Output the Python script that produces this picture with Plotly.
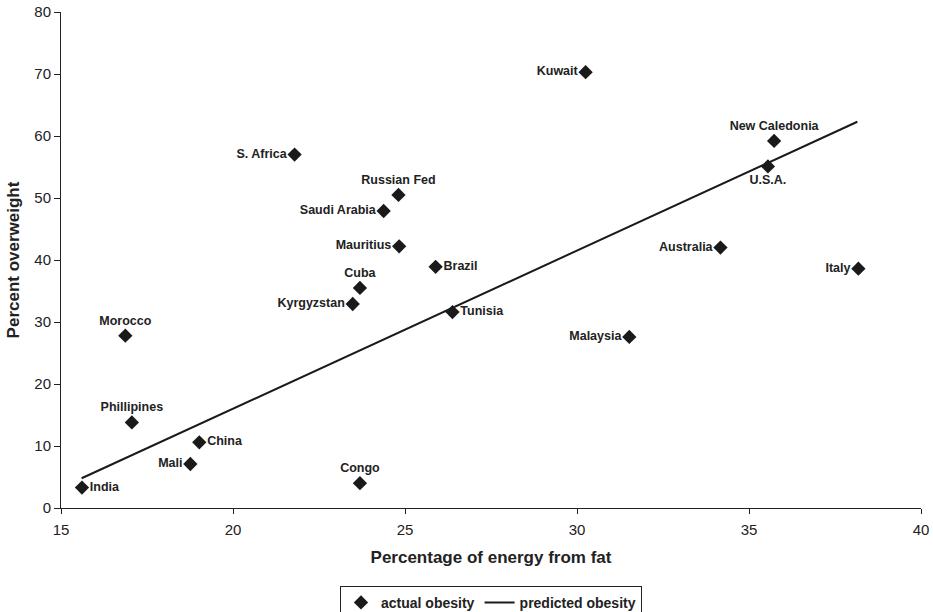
import plotly.graph_objects as go

countries = ["India", "Morocco", "Phillipines", "China", "Mali", "Congo", "Kyrgyzstan", "Cuba",
             "S. Africa", "Saudi Arabia", "Russian Fed", "Mauritius", "Brazil", "Tunisia",
             "Kuwait", "Malaysia", "Australia", "New Caledonia", "U.S.A.", "Italy"]
fat_pct = [15.61, 16.87, 17.06, 19.02, 18.76, 23.69, 23.48, 23.69,
           21.79, 24.38, 24.81, 24.83, 25.89, 26.38,
           30.25, 31.52, 34.17, 35.73, 35.55, 38.18]
overweight = [3.3, 27.8, 13.8, 10.6, 7.1, 4.0, 32.9, 35.5,
              57.0, 47.9, 50.5, 42.2, 38.9, 31.6,
              70.3, 27.6, 42.0, 59.2, 55.1, 38.6]
label_pos = ["middle right", "top center", "top center", "middle right", "middle left", "top center",
             "middle left", "top center", "middle left", "middle left", "top center", "middle left",
             "middle right", "middle right", "middle left", "middle left", "middle left",
             "top center", "bottom center", "middle left"]

pred_x = [15.6, 38.15]
pred_y = [4.8, 62.3]

FONT = "Arial, Liberation Sans, sans-serif"

fig = go.Figure()
fig.add_trace(go.Scatter(
    x=fat_pct, y=overweight, mode="markers+text", name="actual obesity",
    text=countries, textposition=label_pos,
    textfont=dict(family=FONT, size=12.5, color="#222222", weight="bold"),
    marker=dict(symbol="diamond", size=11, color="#1a1a1a"),
))
fig.add_trace(go.Scatter(
    x=pred_x, y=pred_y, mode="lines", name="predicted obesity",
    line=dict(color="#1a1a1a", width=2),
))

fig.update_layout(
    width=933, height=612,
    margin=dict(l=61, r=12, t=12, b=104, autoexpand=False),
    paper_bgcolor="white", plot_bgcolor="white",
    font=dict(family=FONT, color="#222222"),
    showlegend=True,
    legend=dict(orientation="h", x=0.5, xanchor="center", y=-0.157, yanchor="top",
                bordercolor="#222222", borderwidth=1,
                font=dict(family=FONT, size=14, color="#222222", weight="bold"),
                itemwidth=30, tracegroupgap=0),
)
fig.update_xaxes(range=[15, 40], dtick=5, showgrid=False, zeroline=False, automargin=False,
                 showline=True, linecolor="#222222", linewidth=1,
                 ticks="outside", ticklen=5, tickcolor="#222222", ticklabelstandoff=3,
                 ticklabeloverflow="allow",
                 tickfont=dict(family=FONT, size=15, color="#222222"),
                 title=dict(text="Percentage of energy from fat", standoff=14,
                            font=dict(family=FONT, size=17, color="#222222", weight="bold")))
fig.update_yaxes(range=[0, 80], dtick=10, showgrid=False, zeroline=False, automargin=False,
                 showline=True, linecolor="#222222", linewidth=1,
                 ticks="outside", ticklen=6, tickcolor="#222222",
                 ticklabeloverflow="allow",
                 tickfont=dict(family=FONT, size=15, color="#222222"),
                 title=dict(text="Percent overweight", standoff=10,
                            font=dict(family=FONT, size=17, color="#222222", weight="bold")))

fig.write_html("out.html", config={"displayModeBar": False},
               post_script="document.body.style.margin='0';document.body.style.overflow='hidden';")
